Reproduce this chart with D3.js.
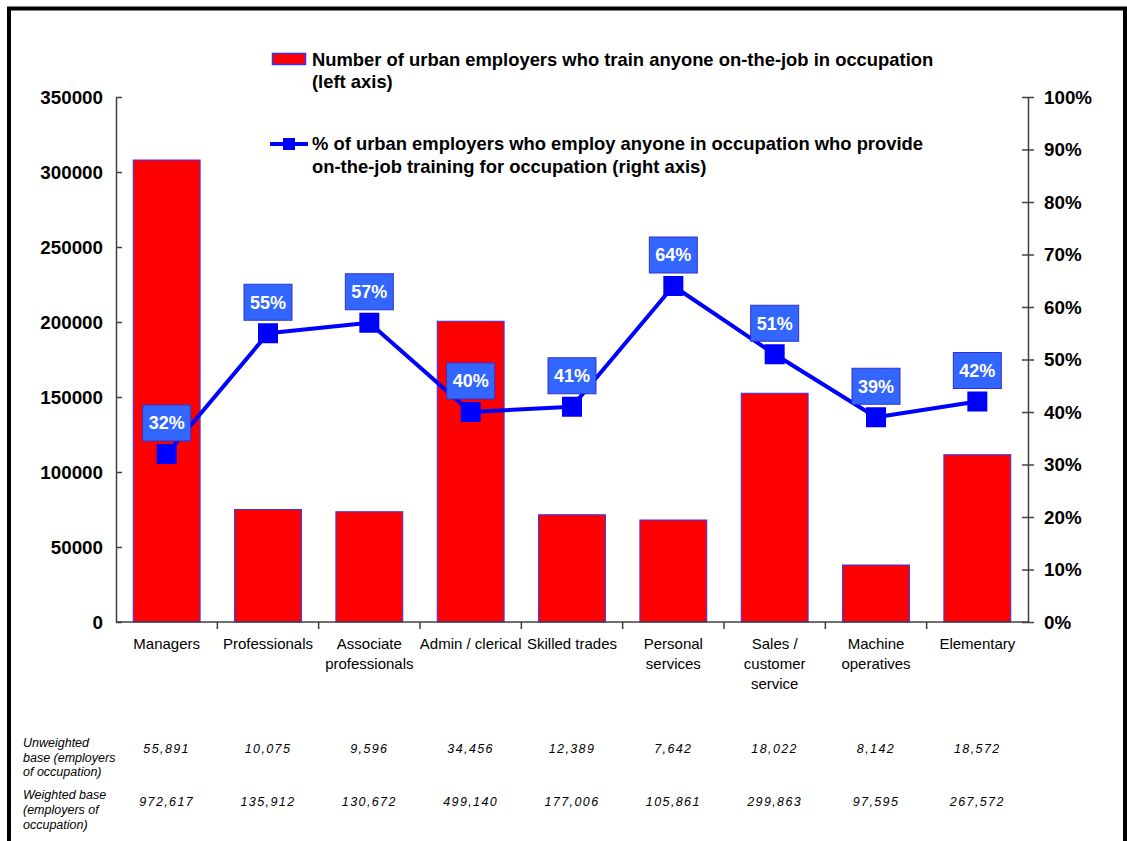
<!DOCTYPE html>
<html>
<head>
<meta charset="utf-8">
<script src="https://cdn.jsdelivr.net/npm/d3@7"></script>
<style>
  html, body { margin: 0; padding: 0; background: #fff; }
  svg { display: block; font-family: "Liberation Sans", Arial, sans-serif; }
</style>
</head>
<body>
<svg id="chart" width="1127" height="841"></svg>
<script>
// Occupations along the x axis (line breaks inside labels)
const categories = [
  ["Managers"],
  ["Professionals"],
  ["Associate", "professionals"],
  ["Admin / clerical"],
  ["Skilled trades"],
  ["Personal", "services"],
  ["Sales /", "customer", "service"],
  ["Machine", "operatives"],
  ["Elementary"]
];

// Employers who train anyone on-the-job (left axis)
const trainers = [308000, 75000, 73500, 200500, 71500, 68000, 152500, 38000, 111500];

// Share of employers providing on-the-job training (right axis)
const trainShare = [0.32, 0.55, 0.57, 0.40, 0.41, 0.64, 0.51, 0.39, 0.42];

// Base rows printed under the chart
const unweightedBase = ["55,891", "10,075", "9,596", "34,456", "12,389", "7,642", "18,022", "8,142", "18,572"];
const weightedBase = ["972,617", "135,912", "130,672", "499,140", "177,006", "105,861", "299,863", "97,595", "267,572"];

const leftTicks = [0, 50000, 100000, 150000, 200000, 250000, 300000, 350000];
const rightTicks = [0, 0.1, 0.2, 0.3, 0.4, 0.5, 0.6, 0.7, 0.8, 0.9, 1.0];

const legendBar = ["Number of urban employers who train anyone on-the-job in occupation", "(left axis)"];
const legendLine = ["% of urban employers who employ anyone in occupation who provide", "on-the-job training for occupation (right axis)"];
const unweightedTitle = ["Unweighted", "base (employers", "of occupation)"];
const weightedTitle = ["Weighted base", "(employers of", "occupation)"];

const svg = d3.select("#chart");
const axisColor = "#404040";

// Outer frame
svg.append("rect")
  .attr("x", 9).attr("y", 8.5).attr("width", 1116).attr("height", 860)
  .attr("fill", "none").attr("stroke", "#000").attr("stroke-width", 4);

const plot = { left: 116, right: 1028, top: 97, bottom: 622 };

const x = d3.scaleBand()
  .domain(d3.range(categories.length))
  .range([plot.left, plot.right])
  .paddingInner(0.34).paddingOuter(0.17);

const yLeft = d3.scaleLinear().domain([0, 350000]).range([plot.bottom, plot.top]);
const yRight = d3.scaleLinear().domain([0, 1]).range([plot.bottom, plot.top]);

const step = x.step();

// Bars
svg.append("g").selectAll("rect")
  .data(trainers)
  .join("rect")
  .attr("x", (d, i) => x(i))
  .attr("y", d => yLeft(d))
  .attr("width", x.bandwidth())
  .attr("height", d => yLeft(0) - yLeft(d))
  .attr("fill", "#ff0000")
  .attr("stroke", "#3333ff")
  .attr("stroke-width", 1);

// Left axis
const leftAxis = svg.append("g")
  .attr("transform", `translate(${plot.left},0)`)
  .call(d3.axisLeft(yLeft).tickValues(leftTicks).tickFormat(d3.format("d")).tickSizeInner(6).tickSizeOuter(0).tickPadding(7));
leftAxis.selectAll(".tick line").attr("x2", 6);

// Right axis
const rightAxis = svg.append("g")
  .attr("transform", `translate(${plot.right},0)`)
  .call(d3.axisRight(yRight).tickValues(rightTicks).tickFormat(d3.format(".0%")).tickSizeInner(6).tickSizeOuter(0).tickPadding(10));
rightAxis.selectAll(".tick line").attr("x1", -6);

[leftAxis, rightAxis].forEach(g => {
  g.select(".domain").attr("stroke", axisColor).attr("stroke-width", 1.5);
  g.selectAll(".tick line").attr("stroke", axisColor).attr("stroke-width", 1.5);
  g.selectAll(".tick text")
    .attr("font-family", "'Liberation Sans', Arial, sans-serif")
    .attr("font-size", 18.8).attr("font-weight", "bold").attr("fill", "#000");
});

// X axis with ticks between categories
const xAxis = svg.append("g");
xAxis.append("line")
  .attr("x1", plot.left).attr("x2", plot.right)
  .attr("y1", plot.bottom).attr("y2", plot.bottom)
  .attr("stroke", axisColor).attr("stroke-width", 1.5);
xAxis.selectAll("line.sep")
  .data(d3.range(1, categories.length))
  .join("line")
  .attr("class", "sep")
  .attr("x1", i => x(i) - step * x.paddingInner() / 2)
  .attr("x2", i => x(i) - step * x.paddingInner() / 2)
  .attr("y1", plot.bottom).attr("y2", plot.bottom + 7)
  .attr("stroke", axisColor).attr("stroke-width", 1.5);

// Category labels
const catLabels = svg.append("g")
  .attr("font-size", 15).attr("fill", "#000").attr("text-anchor", "middle");
categories.forEach((lines, i) => {
  const t = catLabels.append("text")
    .attr("x", x(i) + x.bandwidth() / 2)
    .attr("y", 649);
  lines.forEach((ln, j) => {
    t.append("tspan").attr("x", x(i) + x.bandwidth() / 2).attr("dy", j === 0 ? 0 : 20).text(ln);
  });
});

// Share line with square markers
const cx = i => x(i) + x.bandwidth() / 2;
svg.append("path")
  .datum(trainShare)
  .attr("d", d3.line().x((d, i) => cx(i)).y(d => yRight(d)))
  .attr("fill", "none").attr("stroke", "#0000ff").attr("stroke-width", 4)
  .attr("stroke-linejoin", "round");

svg.append("g").selectAll("rect")
  .data(trainShare)
  .join("rect")
  .attr("x", (d, i) => cx(i) - 10)
  .attr("y", d => yRight(d) - 10)
  .attr("width", 20).attr("height", 20)
  .attr("fill", "#0000ff");

// Percentage labels in boxes
const labels = svg.append("g").selectAll("g")
  .data(trainShare)
  .join("g")
  .attr("transform", (d, i) => `translate(${cx(i)},${yRight(d) - 31})`);
labels.append("rect")
  .attr("x", -24).attr("y", -18).attr("width", 48).attr("height", 36)
  .attr("fill", "#3366ff").attr("stroke", "#3333cc").attr("stroke-width", 1);
labels.append("text")
  .attr("text-anchor", "middle").attr("dy", "0.36em")
  .attr("font-size", 18).attr("font-weight", "bold").attr("fill", "#fff")
  .text(d => d3.format(".0%")(d));

// Legend
const legend = svg.append("g").attr("font-size", 18.4).attr("font-weight", "bold").attr("fill", "#000");
legend.append("rect")
  .attr("x", 272.5).attr("y", 53.5).attr("width", 33).attr("height", 11)
  .attr("fill", "#ff0000").attr("stroke", "#3333ff").attr("stroke-width", 1.5);
const lt1 = legend.append("text").attr("x", 312).attr("y", 66);
legendBar.forEach((ln, j) => lt1.append("tspan").attr("x", 312).attr("dy", j === 0 ? 0 : 22).text(ln));

legend.append("line")
  .attr("x1", 270).attr("x2", 308).attr("y1", 144).attr("y2", 144)
  .attr("stroke", "#0000ff").attr("stroke-width", 4);
legend.append("rect")
  .attr("x", 283).attr("y", 138).attr("width", 12).attr("height", 12)
  .attr("fill", "#0000ff");
const lt2 = legend.append("text").attr("x", 312).attr("y", 150);
legendLine.forEach((ln, j) => lt2.append("tspan").attr("x", 312).attr("dy", j === 0 ? 0 : 23).text(ln));

// Base table under the chart
const table = svg.append("g").attr("font-size", 12.5).attr("font-style", "italic").attr("fill", "#000");
const t1 = table.append("text").attr("x", 23).attr("y", 747);
unweightedTitle.forEach((ln, j) => t1.append("tspan").attr("x", 23).attr("dy", j === 0 ? 0 : 14.5).text(ln));
const t2 = table.append("text").attr("x", 23).attr("y", 799);
weightedTitle.forEach((ln, j) => t2.append("tspan").attr("x", 23).attr("dy", j === 0 ? 0 : 15).text(ln));

table.selectAll("text.uw")
  .data(unweightedBase)
  .join("text").attr("class", "uw")
  .attr("x", (d, i) => cx(i)).attr("y", 753)
  .attr("text-anchor", "middle").attr("letter-spacing", 1.4).text(d => d);
table.selectAll("text.w")
  .data(weightedBase)
  .join("text").attr("class", "w")
  .attr("x", (d, i) => cx(i)).attr("y", 806)
  .attr("text-anchor", "middle").attr("letter-spacing", 1.4).text(d => d);
</script>
</body>
</html>
